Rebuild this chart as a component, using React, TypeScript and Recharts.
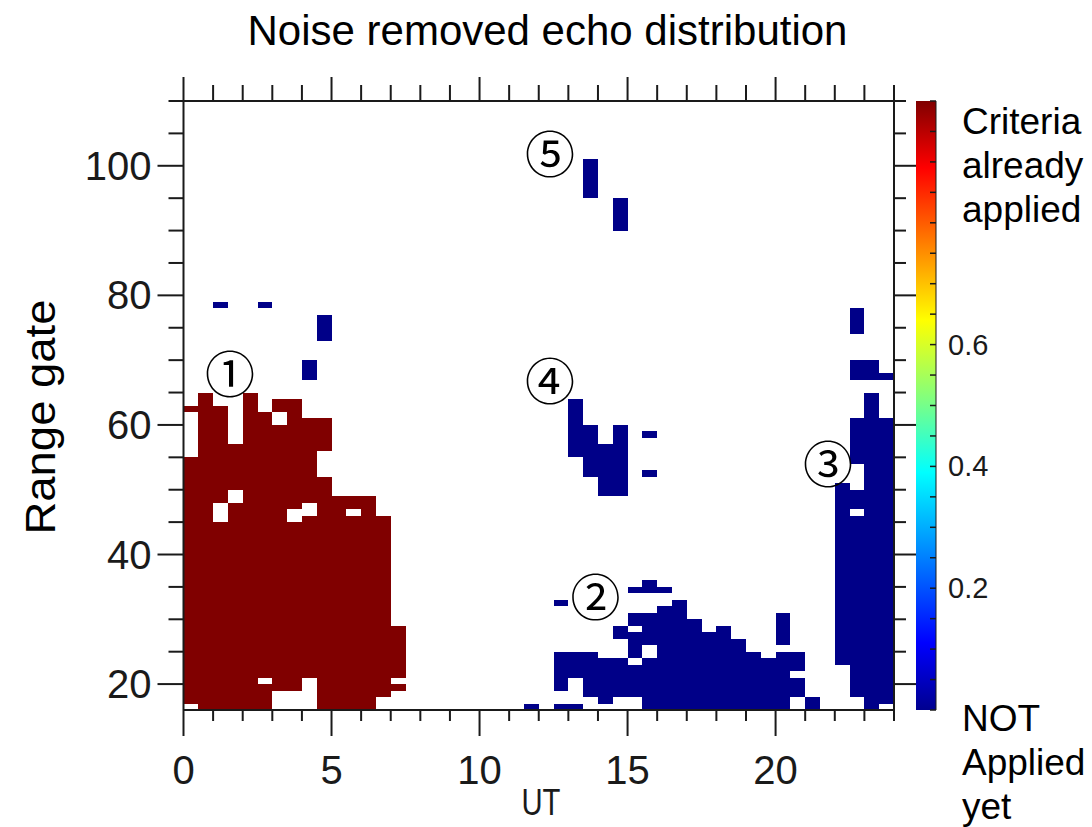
import React from "react";
import { ScatterChart, Scatter, BarChart, Bar, XAxis, YAxis, ReferenceArea } from "recharts";

// cell size along UT (hours); gates are 1 wide
const CELL_HOURS = 0.5;

const utTicks = [0, 1, 2, 3, 4, 5, 6, 7, 8, 9, 10, 11, 12, 13, 14, 15, 16, 17, 18, 19, 20, 21, 22, 23, 24];
const utLabels = [0, 5, 10, 15, 20];
const gateTicks = [20, 25, 30, 35, 40, 45, 50, 55, 60, 65, 70, 75, 80, 85, 90, 95, 100, 105, 110];
const gateLabels = [20, 40, 60, 80, 100];
const cbTicks = [0, 0.05, 0.1, 0.15, 0.2, 0.25, 0.3, 0.35, 0.4, 0.45, 0.5, 0.55, 0.6, 0.65, 0.7, 0.75, 0.8, 0.85, 0.9, 0.95, 1];
const cbLabels = [0.2, 0.4, 0.6];

// [UT start, first gate, last gate] runs of echo cells
const applied: [number, number, number][] = [
  [0, 17, 54], [0, 62, 62],
  [0.5, 16, 64],
  [1, 16, 44], [1, 48, 62],
  [1.5, 16, 47], [1.5, 50, 56],
  [2, 16, 64],
  [2.5, 16, 19], [2.5, 21, 61],
  [3, 19, 59], [3, 62, 63],
  [3.5, 19, 44], [3.5, 47, 63],
  [4, 21, 45], [4, 48, 60],
  [4.5, 16, 51], [4.5, 56, 60],
  [5, 16, 48],
  [5.5, 16, 45], [5.5, 47, 48],
  [6, 16, 48],
  [6.5, 18, 45],
  [7, 19, 19], [7, 21, 28],
];

const notApplied: [number, number, number][] = [
  [1, 78, 78], [2.5, 78, 78], [4, 67, 69], [4.5, 73, 76],
  [11.5, 16, 16],
  [12.5, 16, 16], [12.5, 19, 24], [12.5, 32, 32],
  [13, 16, 16], [13, 21, 24], [13, 55, 63],
  [13.5, 18, 24], [13.5, 52, 59], [13.5, 95, 100],
  [14, 17, 23], [14, 49, 56],
  [14.5, 18, 23], [14.5, 27, 28], [14.5, 49, 59], [14.5, 90, 94],
  [15, 18, 22], [15, 24, 27], [15, 29, 30], [15, 34, 34],
  [15.5, 16, 23], [15.5, 26, 30], [15.5, 34, 35], [15.5, 52, 52], [15.5, 58, 58],
  [16, 16, 31], [16, 34, 34],
  [16.5, 16, 32],
  [17, 16, 29],
  [17.5, 16, 27],
  [18, 16, 28],
  [18.5, 16, 26],
  [19, 16, 24],
  [19.5, 16, 23],
  [20, 16, 24], [20, 26, 30],
  [20.5, 18, 20], [20.5, 22, 24],
  [21, 16, 17],
  [22, 23, 50],
  [22.5, 18, 45], [22.5, 47, 49], [22.5, 54, 60], [22.5, 67, 69], [22.5, 74, 77],
  [23, 16, 64], [23, 67, 69],
  [23.5, 17, 60], [23.5, 67, 67],
];

const notes = [
  { ut: 1.57, gate: 68.3, label: "①" },
  { ut: 13.92, gate: 33.9, label: "②" },
  { ut: 21.77, gate: 54.4, label: "③" },
  { ut: 12.38, gate: 67.2, label: "④" },
  { ut: 12.38, gate: 102.3, label: "⑤" },
];

const colorbar = [{ k: "cb", v: 1 }];

const RED = "#800000";
const BLUE = "#000088";
const INK = "#1a1a1a";
const FONT = "'Liberation Sans', Arial, sans-serif";

function BottomTick(p: any) {
  const v = p.payload.value;
  const major = v % 5 === 0;
  return (
    <g>
      <line x1={p.x} x2={p.x} y1={p.y} y2={p.y + (major ? 26 : 11)} stroke={INK} strokeWidth={2} />
      {utLabels.includes(v) && (
        <text x={p.x} y={p.y + 60} textAnchor="middle" dominantBaseline="central" fontSize={40} fontFamily={FONT} fill={INK}>
          {v}
        </text>
      )}
    </g>
  );
}

function TopTick(p: any) {
  const v = p.payload.value;
  const major = v % 5 === 0;
  return <line x1={p.x} x2={p.x} y1={p.y} y2={p.y - (major ? 24 : 16)} stroke={INK} strokeWidth={2} />;
}

function LeftTick(p: any) {
  const v = p.payload.value;
  const major = v % 20 === 0;
  return (
    <g>
      <line x1={p.x} x2={p.x - (major ? 26 : 15)} y1={p.y} y2={p.y} stroke={INK} strokeWidth={2} />
      {gateLabels.includes(v) && (
        <text x={p.x - 32} y={p.y} textAnchor="end" dominantBaseline="central" fontSize={40} fontFamily={FONT} fill={INK}>
          {v}
        </text>
      )}
    </g>
  );
}

function RightTick(p: any) {
  const v = p.payload.value;
  const major = v % 20 === 0;
  return <line x1={p.x} x2={p.x + (major ? 22 : 12)} y1={p.y} y2={p.y} stroke={INK} strokeWidth={2} />;
}

function BarTick(p: any) {
  const v = p.payload.value;
  return (
    <g>
      <line x1={p.x} x2={p.x - 6} y1={p.y} y2={p.y} stroke={INK} strokeWidth={1.5} />
      {cbLabels.includes(v) && (
        <text x={p.x + 12} y={p.y} dominantBaseline="central" fontSize={29} fontFamily={FONT} fill={INK}>
          {v}
        </text>
      )}
    </g>
  );
}

function NoteMark(p: any) {
  return (
    <text x={p.cx} y={p.cy} textAnchor="middle" dominantBaseline="central" fontSize={50} fontFamily="'Noto Sans CJK JP', sans-serif" fill="#000">
      {p.payload.label}
    </text>
  );
}

function CellRect(p: any) {
  return <rect x={p.x} y={p.y} width={p.width} height={p.height} fill={p.fill} shapeRendering="crispEdges" />;
}

function cells(runs: [number, number, number][], color: string, prefix: string) {
  return runs.map(([ut, g0, g1], i) => (
    <ReferenceArea
      key={`${prefix}-${i}`}
      x1={ut}
      x2={ut + CELL_HOURS}
      y1={g0}
      y2={g1 + 1}
      fill={color}
      fillOpacity={1}
      stroke="none"
      ifOverflow="visible"
      shape={<CellRect />}
    />
  ));
}

const sideText = (lines: string[], y0: number) =>
  lines.map((s, i) => (
    <text key={s} x={962} y={y0 + i * 44} dominantBaseline="central" fontSize={37} fontFamily={FONT} fill="#000">
      {s}
    </text>
  ));

export default function App() {
  return (
    <div style={{ position: "absolute", left: 0, top: 0, width: 1092, height: 827, background: "#fff" }}>
      <div style={{ position: "absolute", left: 0, top: 0 }}>
        <ScatterChart width={1092} height={827} margin={{ top: 61, right: 138, bottom: 37, left: 83.5 }}>
          <XAxis dataKey="ut" type="number" domain={[0, 24]} ticks={utTicks} allowDataOverflow height={80}
            axisLine={{ stroke: INK, strokeWidth: 2 }} tickLine={false} tickSize={0} tickMargin={0} tick={<BottomTick />} interval={0} />
          <XAxis xAxisId="top" orientation="top" dataKey="ut" type="number" domain={[0, 24]} ticks={utTicks} allowDataOverflow height={40}
            axisLine={{ stroke: INK, strokeWidth: 2 }} tickLine={false} tickSize={0} tickMargin={0} tick={<TopTick />} interval={0} />
          <YAxis dataKey="gate" type="number" domain={[16, 110]} ticks={gateTicks} allowDataOverflow width={100}
            axisLine={{ stroke: INK, strokeWidth: 2 }} tickLine={false} tickSize={0} tickMargin={0} tick={<LeftTick />} interval={0} />
          <YAxis yAxisId="right" orientation="right" dataKey="gate" type="number" domain={[16, 110]} ticks={gateTicks} allowDataOverflow width={60}
            axisLine={{ stroke: INK, strokeWidth: 2 }} tickLine={false} tickSize={0} tickMargin={0} tick={<RightTick />} interval={0} />
          {cells(applied, RED, "a")}
          {cells(notApplied, BLUE, "n")}
          <Scatter data={notes} shape={<NoteMark />} isAnimationActive={false} />
        </ScatterChart>
      </div>
      <div style={{ position: "absolute", left: 0, top: 0 }}>
        <BarChart width={1092} height={827} data={colorbar} margin={{ top: 101, right: 76, bottom: 117, left: 916 }} barCategoryGap={0}>
          <defs>
            <linearGradient id="jet" x1="0" y1="1" x2="0" y2="0">
              <stop offset="0" stopColor="#00008f" />
              <stop offset="0.11" stopColor="#0000ff" />
              <stop offset="0.39" stopColor="#00ffff" />
              <stop offset="0.51" stopColor="#80ff80" />
              <stop offset="0.64" stopColor="#ffff00" />
              <stop offset="0.89" stopColor="#ff0000" />
              <stop offset="1" stopColor="#800000" />
            </linearGradient>
          </defs>
          <XAxis dataKey="k" hide />
          <YAxis orientation="right" type="number" domain={[0, 1]} ticks={cbTicks} width={80}
            axisLine={{ stroke: INK, strokeWidth: 1 }} tickLine={false} tickSize={0} tickMargin={0} tick={<BarTick />} interval={0} />
          <Bar dataKey="v" fill="url(#jet)" isAnimationActive={false} />
        </BarChart>
      </div>
      <svg width={1092} height={827} style={{ position: "absolute", left: 0, top: 0, pointerEvents: "none" }}>
        <text x={547.5} y={45} textAnchor="middle" fontSize={42} fontFamily={FONT} fill="#000">
          Noise removed echo distribution
        </text>
        <text x={0} y={0} transform="translate(40 417) rotate(-90)" textAnchor="middle" dominantBaseline="central"
          fontSize={42} textLength={235} lengthAdjust="spacingAndGlyphs" fontFamily={FONT} fill="#000">
          Range gate
        </text>
        <text x={541} y={802} textAnchor="middle" dominantBaseline="central" fontSize={36} textLength={39}
          lengthAdjust="spacingAndGlyphs" fontFamily={FONT} fill={INK}>
          UT
        </text>
        {sideText(["Criteria", "already", "applied"], 121)}
        {sideText(["NOT", "Applied", "yet"], 718)}
      </svg>
    </div>
  );
}
